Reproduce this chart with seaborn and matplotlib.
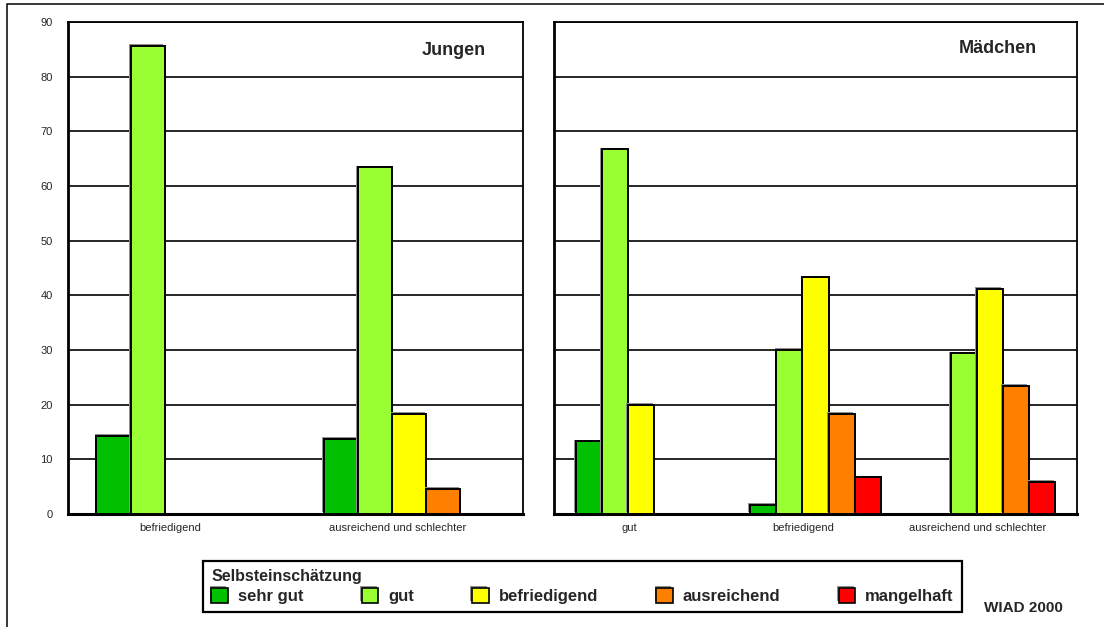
import matplotlib
matplotlib.use("Agg")
import matplotlib.pyplot as plt
import matplotlib.patches as mpatches
import matplotlib.patheffects as pe
import matplotlib.transforms as mtransforms
from matplotlib.font_manager import FontProperties
import numpy as np
import pandas as pd
import seaborn as sns

# Self-assessment levels and their colours
levels = ["sehr gut", "gut", "befriedigend", "ausreichend", "mangelhaft"]
level_colors = ["#00C000", "#99FF33", "#FFFF00", "#FF8000", "#FF0000"]

# Boys: share (%) per self-assessment level, by actual grade
jungen_groups = ["befriedigend", "ausreichend und schlechter"]
jungen_befriedigend = [14.3, 85.7, np.nan, np.nan, np.nan]
jungen_ausreichend = [13.7, 63.4, 18.3, 4.6, np.nan]

# Girls: share (%) per self-assessment level, by actual grade
maedchen_groups = ["gut", "befriedigend", "ausreichend und schlechter"]
maedchen_gut = [13.3, 66.7, 20.0, np.nan, np.nan]
maedchen_befriedigend = [1.7, 30.0, 43.3, 18.3, 6.7]
maedchen_ausreichend = [np.nan, 29.4, 41.2, 23.5, 5.9]

y_ticks = list(range(0, 100, 10))


def long_table(groups, series):
    rows = []
    for g, vals in zip(groups, series):
        for lvl, v in zip(levels, vals):
            rows.append({"group": g, "level": lvl, "value": v})
    return pd.DataFrame(rows).dropna()


df_j = long_table(jungen_groups, [jungen_befriedigend, jungen_ausreichend])
df_m = long_table(maedchen_groups, [maedchen_gut, maedchen_befriedigend, maedchen_ausreichend])

sns.set_style("white")
plt.rcParams["font.family"] = ["Liberation Sans", "DejaVu Sans"]

W, H = 1104, 627
fig = plt.figure(figsize=(W / 100, H / 100), dpi=100)


def fx(px):
    return px / W


def fy(px):
    return 1 - px / H


ax_j = fig.add_axes([fx(68), fy(514), fx(523 - 68), (514 - 22) / H])
ax_m = fig.add_axes([fx(554), fy(514), fx(1077 - 554), (514 - 22) / H])

shadow = [pe.SimplePatchShadow(offset=(-1.2, 1.2), shadow_rgbFace="#909090", alpha=1.0), pe.Normal()]

for ax, data, groups, show_legend in [(ax_j, df_j, jungen_groups, False),
                                      (ax_m, df_m, maedchen_groups, True)]:
    sns.barplot(data=data, x="group", y="value", hue="level", order=groups,
                hue_order=levels, palette=level_colors, saturation=1, width=0.75,
                edgecolor="black", linewidth=1.4, errorbar=None, ax=ax,
                legend=show_legend, zorder=3)
    for p in ax.patches:
        p.set_path_effects(shadow)
    ax.set_ylim(0, 90)
    ax.set_yticks(y_ticks)
    ax.set_xlim(-0.5, len(groups) - 0.5)
    ax.set_xlabel("")
    ax.set_ylabel("")
    ax.grid(axis="y", color="black", linewidth=1.2, zorder=0)
    ax.set_axisbelow(True)
    for side, sp in ax.spines.items():
        sp.set_visible(True)
        sp.set_color("black")
        sp.set_linewidth(1.3)
    ax.spines["bottom"].set_linewidth(2.2)
    ax.spines["left"].set_linewidth(2.0)
    ax.set_xticks(np.arange(len(groups)))
    ax.set_xticks(np.arange(len(groups) - 1) + 0.5, minor=True)
    ax.tick_params(axis="x", which="major", length=0, labelbottom=False)
    ax.tick_params(axis="x", which="minor", direction="in", length=6, width=1.2, color="black")
    ax.tick_params(axis="y", which="major", direction="in", length=9, width=1.6,
                   color="black", labelsize=8, pad=11)
    # category labels, set slightly left of the group centre
    shift = mtransforms.ScaledTranslation(-12 / 100, -9 / 100, fig.dpi_scale_trans)
    trans = mtransforms.blended_transform_factory(ax.transData, ax.transAxes) + shift
    for x, lab in zip(ax.get_xticks(), groups):
        ax.text(x, 0, lab, transform=trans, ha="center", va="top", fontsize=8)

ax_m.tick_params(axis="y", labelleft=False)

ax_j.text(0.848, 0.943, "Jungen", transform=ax_j.transAxes, ha="center", va="center",
          fontsize=13, fontweight="bold")
ax_m.text(0.849, 0.947, "Mädchen", transform=ax_m.transAxes, ha="center", va="center",
          fontsize=13, fontweight="bold")

# legend built from the bars of the girls panel
handles, labels = ax_m.get_legend_handles_labels()
ax_m.get_legend().remove()
leg_font = FontProperties(family=["Liberation Sans"], weight="bold", size=12)
leg_title_font = FontProperties(family=["Liberation Sans"], weight="bold", size=11.5)
leg = fig.legend(handles, labels, ncol=5, loc="upper left",
                 bbox_to_anchor=(fx(203), fy(611), fx(962 - 203), (611 - 561) / H),
                 mode="expand", title="Selbsteinschätzung", alignment="left",
                 prop=leg_font, title_fontproperties=leg_title_font,
                 frameon=True, fancybox=False, edgecolor="black", framealpha=1,
                 handlelength=1.0, handleheight=1.0, handletextpad=0.6,
                 borderpad=0.5, borderaxespad=0, labelspacing=0.2)
leg.get_frame().set_linewidth(1.6)
for h in leg.legend_handles:
    h.set_edgecolor("black")
    h.set_linewidth(1.2)

fig.text(fx(1023), fy(608), "WIAD 2000", ha="center", va="center", fontsize=11, fontweight="bold")

# outer frame (left and top edges)
fig.add_artist(mpatches.Rectangle((fx(7), -0.1), 1.2, fy(4) + 0.1, transform=fig.transFigure,
                                  fill=False, edgecolor="black", linewidth=1.1))

fig.savefig("out.png", dpi=100)
